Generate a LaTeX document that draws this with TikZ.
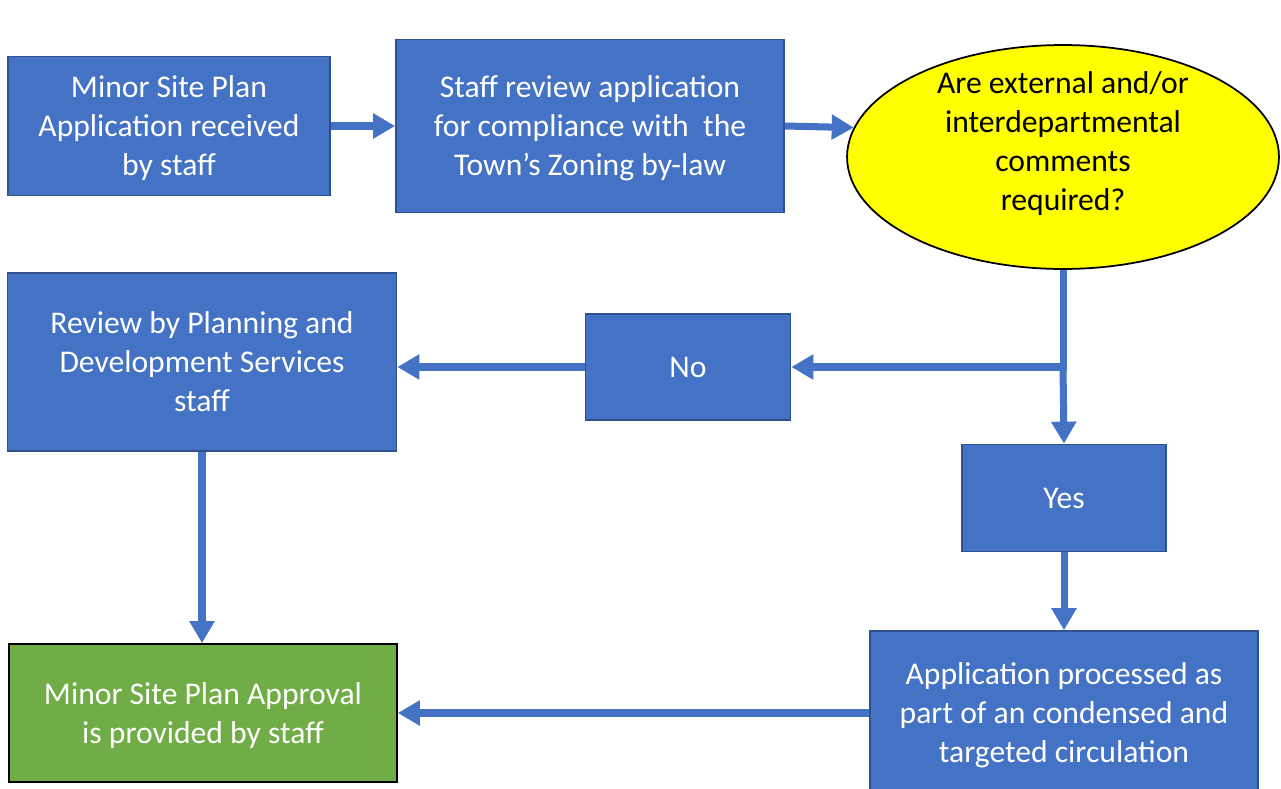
\documentclass[tikz,border=0pt]{standalone}
\usepackage{fontspec}
\setmainfont{Carlito}
\usepackage{xcolor}
\usetikzlibrary{shapes,arrows.meta,positioning}
\definecolor{boxblue}{HTML}{4472C4}
\definecolor{edgeblue}{HTML}{2F528F}
\definecolor{boxgreen}{HTML}{70AD47}
\definecolor{askyellow}{HTML}{FFFF00}

\begin{document}
\begin{tikzpicture}[x=0.02cm,y=-0.02cm,
  box/.style={rectangle,draw=edgeblue,line width=1pt,fill=boxblue,text=white,align=center,inner sep=0pt,font=\fontsize{18}{22.2}\selectfont,text depth=0pt},
  flow/.style={draw=boxblue,line width=4pt,-{Triangle[length=0.44cm,width=0.48cm]}}]
\useasboundingbox (0,0) rectangle (1281,788);
\node [box, minimum width=6.44cm, minimum height=2.78cm] (recv) at (169,126) {Minor Site Plan\\Application received\\by staff};
\node [box, minimum width=7.76cm, minimum height=3.46cm] (review) at (590,126) {Staff review application\\for compliance with\ \ the\\Town’s Zoning by-law};
\node [ellipse, draw=black, line width=1pt, fill=askyellow, minimum width=8.64cm, minimum height=4.48cm,
  label={[name=asktext, align=center, font=\fontsize{18}{22.2}\selectfont, yshift=0.27cm]center:{Are external and/or\\interdepartmental\\comments\\required?}}] (ask) at (1063,157) {};
\node [box, minimum width=7.78cm, minimum height=3.56cm] (planning) at (202,362) {Review by Planning and\\Development Services\\staff};
\node [box, minimum width=4.1cm, minimum height=2.12cm] (no) at (688,367) {No};
\node [box, minimum width=4.08cm, minimum height=2.14cm] (yes) at (1064,498) {Yes};
\node [box, minimum width=7.76cm, minimum height=3.28cm] (circ) at (1064,713) {Application processed as\\part of an condensed and\\targeted circulation};
\node [box, draw=black, fill=boxgreen, minimum width=7.76cm, minimum height=2.76cm] (approve) at (203,713) {Minor Site Plan Approval\\is provided by staff};
\coordinate (split) at (ask.south |- no.east);
\draw [flow] (recv.east) -- (recv.east -| review.west);
\draw [flow] (review.east) -- (ask.172);
\draw [flow] (ask.south) |- (no.east);
\draw [flow] (split) -- (yes.north);
\draw [flow] (no.west) -- (no.west -| planning.east);
\draw [flow] (planning.south) -- (planning.south |- approve.north);
\draw [flow] (yes.south) -- (circ.north);
\draw [flow] (circ.west) -- (circ.west -| approve.east);
\end{tikzpicture}
\end{document}
